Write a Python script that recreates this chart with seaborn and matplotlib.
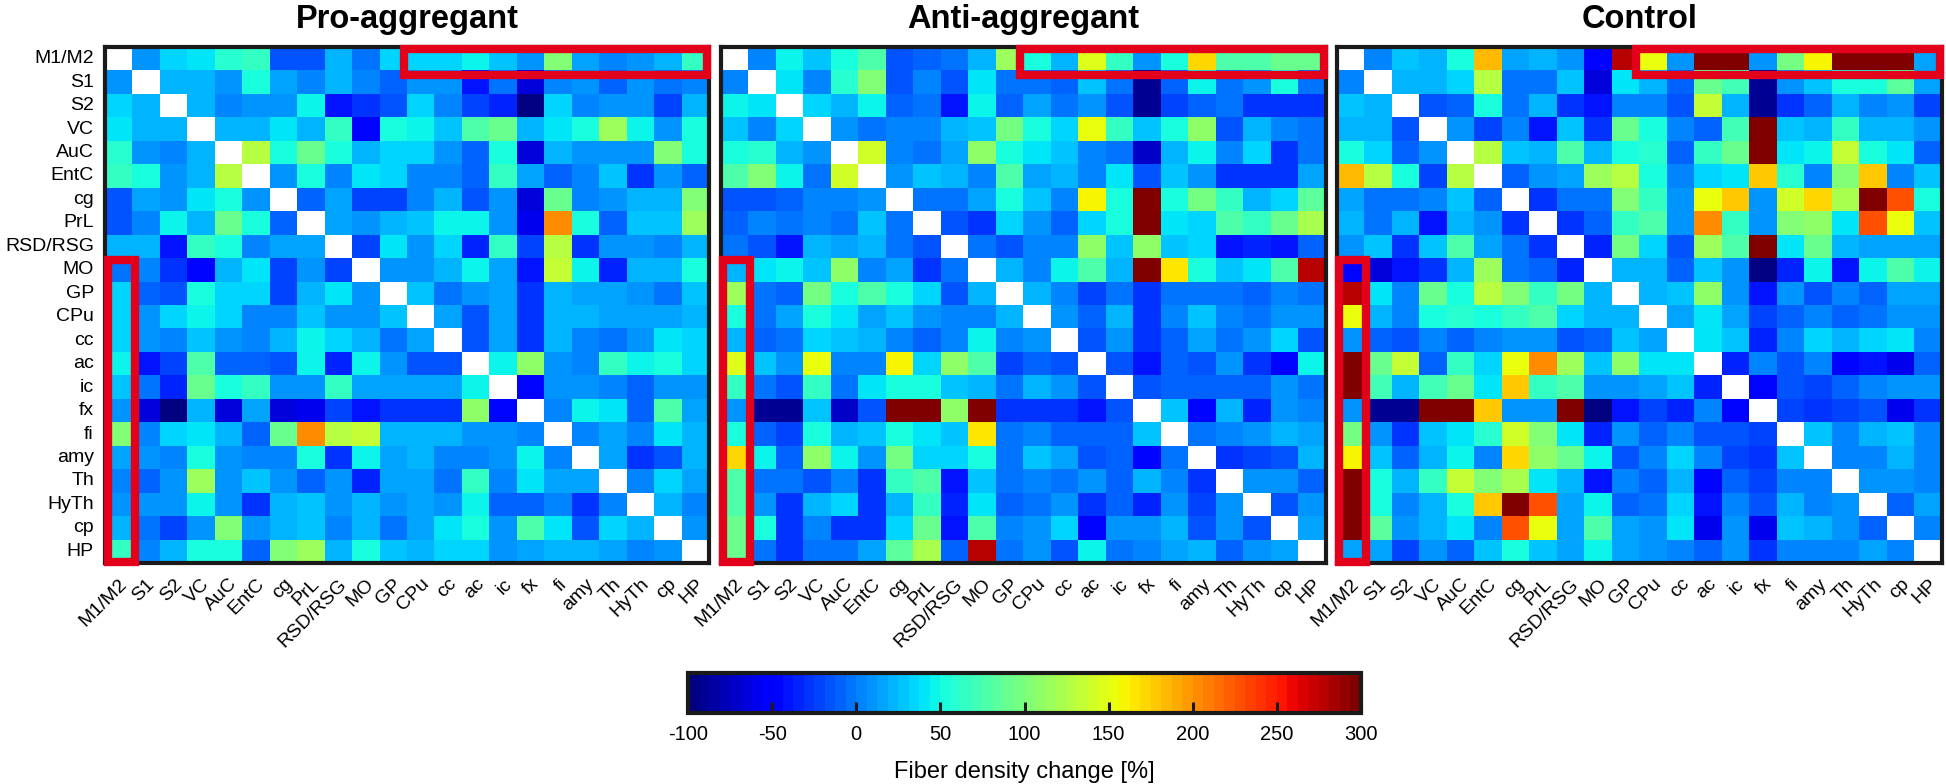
import numpy as np
import matplotlib
matplotlib.use('Agg')
import matplotlib.pyplot as plt
from matplotlib.patches import Rectangle
import seaborn as sns

regions = ['M1/M2', 'S1', 'S2', 'VC', 'AuC', 'EntC', 'cg', 'PrL', 'RSD/RSG', 'MO', 'GP',
           'CPu', 'cc', 'ac', 'ic', 'fx', 'fi', 'amy', 'Th', 'HyTh', 'cp', 'HP']
cbar_ticks = [-100, -50, 0, 50, 100, 150, 200, 250, 300]

# upper triangle of each matrix, read row by row (the matrices are symmetric)
pro = [
    [8, 32, 42, 58, 68, -15, -18, 20, -3, 32, 36, 32, 46, 28, 8, 100, 15, 0, 8, 22, 68],
    [20, 20, 12, 50, 14, 0, 20, 0, -12, 12, 12, -38, -3, -65, 4, 12, -12, 8, -4, 4],
    [20, 0, 8, 8, 46, -40, -30, -15, 34, 4, -22, -36, -98, 36, 0, 8, 8, -22, 24],
    [20, 20, 40, 20, 66, -50, 56, 46, 30, 80, 88, 20, 42, 56, 115, 46, 12, 50],
    [128, 56, 90, 50, 20, 36, 36, 12, -8, 56, -65, 20, 12, 8, 8, 100, 50],
    [12, 50, 4, 40, 36, 4, 4, -8, 68, 15, -8, 4, 30, -30, 12, -8],
    [-8, 15, -22, -22, 4, 24, -15, 8, -65, 90, 4, 8, 20, 20, 102],
    [15, 8, 20, 26, 46, 46, 12, -60, 200, 50, -8, 26, 28, 118],
    [-22, 42, 8, 32, -36, 68, -22, 128, -30, 8, 8, 0, 24],
    [8, 8, 20, 46, 15, -42, 133, 44, -36, 20, 20, 50],
    [30, -3, 8, 15, -30, 20, 15, 15, 8, -3, 28],
    [15, -15, 15, -30, 24, 24, 15, 15, 15, 20],
    [-15, 15, -30, 24, 4, -3, 8, 42, 36],
    [46, 108, 8, 0, 68, 46, 56, 36],
    [-45, 8, 8, 0, -12, 12, 12],
    [4, 46, 42, -8, 80, 15],
    [0, 15, 0, 42, 24],
    [15, -26, -15, 24],
    [4, 36, 15],
    [24, 0],
    [12],
]
anti = [
    [4, 46, 30, 56, 75, -15, -12, -3, 20, 115, 56, 20, 146, 68, 8, 50, 170, 80, 75, 90, 90],
    [40, 4, 62, 100, -15, 0, -15, 40, -3, -3, -12, 26, -3, -90, -12, 46, -3, 8, 56, -3],
    [32, 20, 46, -8, -3, -38, 46, -10, 14, -3, 12, -15, -90, -22, -8, -3, -26, -30, -30],
    [12, -3, 4, 0, 20, 30, 95, 50, 32, 150, 68, 30, 50, 108, -15, 20, 0, -3],
    [140, 4, -3, 14, 108, 50, 42, 30, 4, -3, -70, 20, 46, 4, 32, -30, -3],
    [12, 30, 20, 4, 76, 15, 24, 4, 40, -18, 26, 12, -30, -30, -26, 15],
    [-3, -3, 15, 50, 30, 4, 158, 50, 300, 50, 95, 68, 20, 36, 82],
    [-15, -26, 32, 8, -10, 36, 50, 300, 42, 32, 80, 68, 92, 120],
    [-3, -15, 4, 4, 108, 30, 108, 26, 36, -38, -32, -38, -8],
    [20, 4, 46, 75, 24, 300, 165, 50, 30, 42, 75, 280],
    [20, 4, -22, -3, -26, -3, -3, -3, -10, 4, -3],
    [12, -12, 20, -30, 4, 30, 0, -3, 12, 12],
    [-18, 12, -30, -8, 14, -3, 12, 36, -15],
    [-15, -42, -8, -18, 12, -26, -46, 46],
    [-18, -8, -8, -8, -8, 8, -3],
    [26, -50, 20, -36, 8, 0],
    [-3, 0, 12, 20, 15],
    [-26, -20, -15, 24],
    [8, 12, -10],
    [-15, 8],
    [15],
]
control = [
    [4, 28, 20, 50, 185, 15, 20, 8, -50, 275, 150, 12, 300, 300, 8, 95, 160, 300, 300, 295, 15],
    [20, 20, 34, 125, -3, -3, 28, -65, 40, 20, -10, 90, 72, -90, 12, 26, 56, 50, 82, 15],
    [-18, -8, 50, -3, 22, -30, -38, 4, 0, -18, 135, 20, -92, -26, -10, 20, 4, 12, -22],
    [8, -20, 4, -38, 28, -28, 88, 50, 4, -10, 72, 300, 28, 20, 66, 22, 20, 8],
    [125, 26, 22, 75, 20, 50, 60, -8, 66, 92, 300, 40, 46, 135, 50, 42, -8],
    [-10, 8, 15, 115, 125, 50, 0, 36, 42, 180, 60, 0, 100, 175, 0, 30],
    [-28, -6, -3, 100, 68, 12, 155, 175, 8, 140, 170, 120, 300, 225, 56],
    [-26, -10, 66, 75, 8, 200, 66, 10, 100, 108, 42, 225, 150, 30],
    [-32, 95, 32, -15, 115, 75, 300, 42, 88, 20, 15, 15, 15],
    [20, 20, -10, 28, 8, -96, -32, 44, -38, 46, 75, 46],
    [20, 28, 108, 8, -38, 8, -15, 0, -12, 15, 15],
    [15, 42, 14, -22, -8, 4, -8, -4, 12, 8],
    [42, 26, -32, 0, 32, 20, 36, 42, 4],
    [-36, 0, -15, 0, -48, -38, -60, -8],
    [-44, -15, -22, -8, 0, 8, 8],
    [-20, -30, -20, -15, -60, -30],
    [28, 0, 20, 28, 4],
    [4, 4, 20, 0],
    [8, 8, 0],
    [-8, 15],
    [4],
]


def to_matrix(rows):
    n = len(rows) + 1
    m = np.zeros((n, n))
    for i, r in enumerate(rows):
        m[i, i + 1:] = r
        m[i + 1:, i] = r
    return m


W, H = 1946, 784
plt.rcParams['font.family'] = ['Liberation Sans', 'DejaVu Sans']
plt.rcParams['axes.unicode_minus'] = False
fig = plt.figure(figsize=(W / 100, H / 100), dpi=100)


def px_axes(x0, x1, y0, y1):
    return fig.add_axes([x0 / W, 1 - y1 / H, (x1 - x0) / W, (y1 - y0) / H])


jet64 = plt.get_cmap('jet', 64)
frame = '#1a1a1a'
red = '#e2001a'
cax = px_axes(688, 1361, 672.5, 712.5)

panels = [('Pro-aggregant', pro, 105, 709), ('Anti-aggregant', anti, 720.5, 1326), ('Control', control, 1336.5, 1942)]
for k, (title, rows, x0, x1) in enumerate(panels):
    ax = px_axes(x0, x1, 47, 563)
    m = to_matrix(rows)
    sns.heatmap(m, ax=ax, cmap=jet64, vmin=-100, vmax=300, mask=np.eye(22, dtype=bool), square=False,
                cbar=k == 0, cbar_ax=cax if k == 0 else None,
                cbar_kws={'orientation': 'horizontal', 'ticks': cbar_ticks},
                xticklabels=regions, yticklabels=regions if k == 0 else False)
    if k == 0:
        cb = ax.collections[0].colorbar
    for s in ax.spines.values():
        s.set_visible(True)
        s.set_color(frame)
        s.set_linewidth(3)
    ax.tick_params(axis='y', length=0, labelsize=14, pad=8)
    ax.tick_params(axis='x', length=0, labelsize=14, pad=9)
    ax.set_xticklabels(regions, rotation=45, ha='right', rotation_mode='anchor')
    if k == 0:
        ax.set_yticklabels(regions, rotation=0)
    ax.set_title(title, fontsize=23.5, fontweight='bold', pad=14)
    ax.add_patch(Rectangle((10.9, 0.085), 11.03, 1.1, fill=False, ec=red, lw=6, clip_on=False, zorder=5, joinstyle='miter'))
    ax.add_patch(Rectangle((0.1, 9.07), 0.98, 12.89, fill=False, ec=red, lw=6, clip_on=False, zorder=5, joinstyle='miter'))

cb.outline.set_edgecolor(frame)
cb.outline.set_linewidth(3)
cb.ax.tick_params(direction='in', length=8, width=2.2, color=frame, labelsize=14.5, pad=9)
cb.set_label('Fiber density change [%]', fontsize=17, labelpad=12)

fig.savefig('out.png', dpi=100)
